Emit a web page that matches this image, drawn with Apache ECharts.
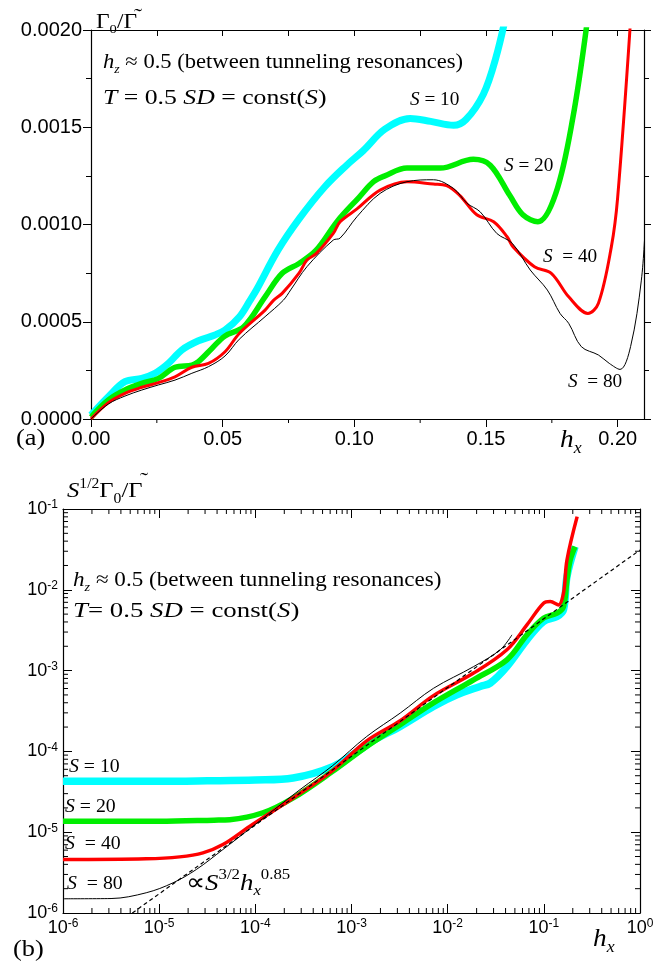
<!DOCTYPE html>
<html>
<head>
<meta charset="utf-8">
<script src="https://cdn.jsdelivr.net/npm/echarts@6/dist/echarts.min.js"></script>
<style>
  html, body { margin: 0; padding: 0; background: #fff; }
  #chart { width: 669px; height: 968px; }
</style>
</head>
<body>
<div id="chart"></div>
<script>
// ---- panel (a): Gamma0/Gamma~ vs h_x (linear) ----
const aX10 = [0, 0.0066, 0.0129, 0.0193, 0.0243, 0.0294, 0.0345, 0.0408, 0.0471, 0.0509, 0.0564, 0.0604, 0.0628, 0.071, 0.0791, 0.0888, 0.0971, 0.1034, 0.1116, 0.1212, 0.129, 0.1377, 0.1424, 0.149, 0.1538, 0.158];
const aY10 = [0.2e-4, 1.15e-4, 1.92e-4, 2.09e-4, 2.35e-4, 2.86e-4, 3.55e-4, 4.02e-4, 4.32e-4, 4.57e-4, 5.26e-4, 6.1e-4, 6.63e-4, 8.68e-4, 10.3e-4, 11.94e-4, 13.05e-4, 13.8e-4, 14.9e-4, 15.45e-4, 15.3e-4, 15.1e-4, 15.4e-4, 16.7e-4, 18.6e-4, 21e-4];

const aX20 = [0, 0.0066, 0.0129, 0.0193, 0.0256, 0.0319, 0.0383, 0.0408, 0.0459, 0.0509, 0.058, 0.0661, 0.0726, 0.079, 0.0855, 0.0937, 0.1018, 0.1073, 0.1116, 0.12, 0.1326, 0.1452, 0.1516, 0.159, 0.164, 0.1697, 0.1765, 0.183, 0.1885];
const aY20 = [0.1e-4, 0.98e-4, 1.49e-4, 1.83e-4, 2.09e-4, 2.66e-4, 2.77e-4, 2.95e-4, 3.63e-4, 4.27e-4, 4.74e-4, 6.28e-4, 7.49e-4, 8.0e-4, 8.68e-4, 10.2e-4, 11.4e-4, 12.2e-4, 12.5e-4, 12.9e-4, 12.9e-4, 13.35e-4, 13.05e-4, 11.5e-4, 10.5e-4, 10.14e-4, 11.6e-4, 15.5e-4, 20.5e-4];

const aX40 = [0, 0.0066, 0.0129, 0.0193, 0.0256, 0.0319, 0.0383, 0.0446, 0.0509, 0.0563, 0.0661, 0.0693, 0.0726, 0.079, 0.082, 0.0855, 0.092, 0.0946, 0.101, 0.1098, 0.12, 0.13, 0.135, 0.14, 0.1465, 0.1529, 0.158, 0.1603, 0.1684, 0.1748, 0.1814, 0.1887, 0.1927, 0.1976, 0.2, 0.2049];
const aY40 = [0, 0.84e-4, 1.32e-4, 1.63e-4, 1.87e-4, 2.17e-4, 2.66e-4, 2.86e-4, 3.46e-4, 4.4e-4, 5.6e-4, 6.1e-4, 6.46e-4, 7.5e-4, 8.17e-4, 8.5e-4, 9.54e-4, 10.14e-4, 10.8e-4, 11.77e-4, 12.2e-4, 12.08e-4, 12.0e-4, 11.5e-4, 10.5e-4, 10.14e-4, 9.37e-4, 8.85e-4, 7.83e-4, 7.49e-4, 6.28e-4, 5.43e-4, 5.95e-4, 8.85e-4, 11.4e-4, 20.5e-4];

const aX80 = [0, 0.0066, 0.0129, 0.0193, 0.0256, 0.0319, 0.0383, 0.0446, 0.0509, 0.0563, 0.0661, 0.073, 0.0758, 0.082, 0.092, 0.0946, 0.101, 0.1098, 0.12, 0.13, 0.1377, 0.1427, 0.1478, 0.1541, 0.16, 0.1668, 0.1733, 0.1781, 0.1814, 0.1862, 0.1927, 0.1968, 0.2009, 0.2049, 0.209, 0.2105];
const aY80 = [0, 0.77e-4, 1.18e-4, 1.49e-4, 1.75e-4, 2.0e-4, 2.35e-4, 2.69e-4, 3.24e-4, 4.1e-4, 5.26e-4, 6.1e-4, 6.63e-4, 7.83e-4, 9.2e-4, 9.3e-4, 10.4e-4, 11.6e-4, 12.2e-4, 12.3e-4, 11.85e-4, 11.1e-4, 10.65e-4, 9.54e-4, 9.03e-4, 7.66e-4, 6.63e-4, 5.43e-4, 4.92e-4, 3.72e-4, 3.29e-4, 2.86e-4, 2.55e-4, 3.72e-4, 7.14e-4, 10e-4];

const aTicksX = [0, 0.05, 0.1, 0.15, 0.2];
const aMinorX = [0.025, 0.075, 0.125, 0.175];
const aTopTicksX = [0.025, 0.05, 0.075, 0.1, 0.125, 0.15, 0.175, 0.2];

// ---- panel (b): S^1/2 Gamma0/Gamma~ vs h_x (log-log) ----
const bX10 = [1e-6, 1e-5, 3.16e-5, 1e-4, 2.47e-4, 6.47e-4, 1.23e-3, 1.62e-3, 3.21e-3, 7.11e-3, 0.01247, 0.0218, 0.0277, 0.0413, 0.0667, 0.0993, 0.137, 0.160, 0.174, 0.211];
const bY10 = [4.26e-5, 4.26e-5, 4.32e-5, 4.42e-5, 4.69e-5, 6.53e-5, 1.05e-4, 1.33e-4, 2.04e-4, 3.6e-4, 5.01e-4, 6.37e-4, 7.0e-4, 1.12e-3, 2.4e-3, 4.05e-3, 4.67e-3, 5.65e-3, 0.01456, 0.0342];

const bX20 = [1e-6, 1e-5, 3.72e-5, 5.41e-5, 1.2e-4, 2.47e-4, 6.31e-4, 1.44e-3, 3.21e-3, 7.11e-3, 0.0186, 0.0413, 0.0667, 0.0993, 0.137, 0.160, 0.174, 0.188, 0.211];
const bY20 = [1.365e-5, 1.365e-5, 1.41e-5, 1.43e-5, 1.74e-5, 2.65e-5, 5.62e-5, 1.15e-4, 2.14e-4, 3.98e-4, 7.69e-4, 1.36e-3, 2.77e-3, 4.46e-3, 5.14e-3, 6.19e-3, 0.01324, 0.0234, 0.0342];

const bX40 = [1e-6, 7.33e-6, 1.63e-5, 2.85e-5, 4.6e-5, 8.71e-5, 2.47e-4, 6.31e-4, 1.44e-3, 3.21e-3, 7.11e-3, 0.0186, 0.0413, 0.0667, 0.0993, 0.1167, 0.1422, 0.160, 0.174, 0.222];
const bY40 = [4.58e-6, 4.68e-6, 4.95e-6, 5.55e-6, 7.03e-6, 1.18e-5, 2.65e-5, 5.75e-5, 1.35e-4, 2.4e-4, 4.9e-4, 9.31e-4, 1.81e-3, 3.68e-3, 6.82e-3, 7.14e-3, 6.5e-3, 9.08e-3, 0.0234, 0.0804];

const bX80 = [1e-6, 3.16e-6, 7.33e-6, 1.39e-5, 2.43e-5, 4.6e-5, 8.71e-5, 2.92e-4, 6.31e-4, 1.44e-3, 3.21e-3, 7.11e-3, 0.0186, 0.0352, 0.0466];
const bY80 = [1.5e-6, 1.51e-6, 1.78e-6, 2.36e-6, 3.45e-6, 6.1e-6, 1.1e-5, 3.37e-5, 6.61e-5, 1.53e-4, 2.98e-4, 6.03e-4, 1.12e-3, 1.81e-3, 2.77e-3];

// power-law guide  ~ S^3/2 h_x^0.85
const bFitX = [5.26e-6, 1];
const bFitY = [1e-6, 0.0311];

const bDecX = [1e-6, 1e-5, 1e-4, 1e-3, 1e-2, 1e-1, 1];
const bDecY = [1e-6, 1e-5, 1e-4, 1e-3, 1e-2, 1e-1];

const bMinorX = [];
for (let e = -6; e < 0; e++) for (let k = 2; k <= 9; k++) bMinorX.push(k * Math.pow(10, e));
const bMinorY = [];
for (let e = -6; e < -1; e++) for (let k = 2; k <= 9; k++) bMinorY.push(k * Math.pow(10, e));

const zip = (xs, ys) => xs.map((x, i) => [x, ys[i]]);

const SANS = 'Liberation Sans';
const SERIF = 'Liberation Serif';
const CYAN = '#00ffff', GREEN = '#00ee00', RED = '#ff0000', BLACK = '#000000';

const axisLine = { show: true, onZero: false, lineStyle: { color: '#000', width: 1.2 } };

function richFor(fs) {
    const s = Math.round(fs * 0.64);
    return {
        n: { fontFamily: SERIF, fontSize: fs, lineHeight: Math.round(fs * 1.3) },
        i: { fontFamily: SERIF, fontSize: fs, fontStyle: 'italic', lineHeight: Math.round(fs * 1.3) },
        sub: { fontFamily: SERIF, fontSize: s, fontStyle: 'italic', verticalAlign: 'bottom', lineHeight: s },
        subn: { fontFamily: SERIF, fontSize: s, verticalAlign: 'bottom', lineHeight: s },
        sup: { fontFamily: SERIF, fontSize: s, verticalAlign: 'top', lineHeight: s },
    };
}

// the source figure is slightly stretched sideways, so texts get a small scaleX
function label(text, left, top, fs, sx) {
    return {
        type: 'text', left, top, z: 100, scaleX: sx || 1.1,
        style: { text, fill: '#000', rich: richFor(fs) },
    };
}

const powLabel = v => {
    const e = Math.round(Math.log10(v));
    return '{m|10}{e|' + e + '}';
};
const powRich = {
    m: { fontFamily: SANS, fontSize: 18, lineHeight: 20, color: '#000' },
    e: { fontFamily: SANS, fontSize: 12, lineHeight: 12, verticalAlign: 'top', color: '#000' },
};

// short tick marks for the minor positions, placed through the axis scales
function tickRenderer(dir, len, atMin, atMax) {
    return (params, api) => {
        const v = api.value(dir === 'x' ? 0 : 1);
        const children = [];
        const a = dir === 'x' ? api.coord([v, atMin]) : api.coord([atMin, v]);
        const b = atMax == null ? null : (dir === 'x' ? api.coord([v, atMax]) : api.coord([atMax, v]));
        const st = { stroke: '#000', lineWidth: 1 };
        if (dir === 'x') {
            children.push({ type: 'line', shape: { x1: a[0], y1: a[1], x2: a[0], y2: a[1] + len[0] }, style: st });
            if (b) children.push({ type: 'line', shape: { x1: b[0], y1: b[1], x2: b[0], y2: b[1] + len[1] }, style: st });
        } else {
            children.push({ type: 'line', shape: { x1: a[0], y1: a[1], x2: a[0] + len[0], y2: a[1] }, style: st });
            if (b) children.push({ type: 'line', shape: { x1: b[0], y1: b[1], x2: b[0] + len[1], y2: b[1] }, style: st });
        }
        return { type: 'group', children };
    };
}

const chart = echarts.init(document.getElementById('chart'), null, { renderer: 'canvas' });

chart.setOption({
    animation: false,
    backgroundColor: '#fff',
    grid: [
        { left: 91, top: 30, width: 553, height: 389 },
        { left: 63, top: 509, width: 577, height: 404 },
    ],
    xAxis: [
        {
            gridIndex: 0, type: 'value', position: 'bottom', min: 0, max: 0.21, interval: 0.05,
            axisLine, splitLine: { show: false },
            axisTick: { show: true, inside: false, length: 8, customValues: aTicksX, lineStyle: { color: '#000' } },
            axisLabel: {
                customValues: aTicksX, margin: 10, color: '#000', fontFamily: SANS, fontSize: 20,
                formatter: v => v.toFixed(2),
            },
        },
        {
            gridIndex: 0, type: 'value', position: 'top', min: 0, max: 0.21, interval: 0.05,
            axisLine, splitLine: { show: false },
            axisTick: { show: true, inside: true, length: 6, customValues: aTopTicksX, lineStyle: { color: '#000' } },
            axisLabel: { show: false },
        },
        {
            gridIndex: 1, type: 'log', position: 'bottom', min: 1e-6, max: 1,
            axisLine, splitLine: { show: false },
            axisTick: { show: true, inside: true, length: 9, customValues: bDecX, lineStyle: { color: '#000' } },
            axisLabel: { customValues: bDecX, margin: 5, formatter: powLabel, rich: powRich },
        },
        {
            gridIndex: 1, type: 'log', position: 'top', min: 1e-6, max: 1,
            axisLine, splitLine: { show: false },
            axisTick: { show: true, inside: true, length: 9, customValues: bDecX, lineStyle: { color: '#000' } },
            axisLabel: { show: false },
        },
    ],
    yAxis: [
        {
            gridIndex: 0, type: 'value', position: 'left', min: 0, max: 0.002, interval: 0.0005,
            axisLine, splitLine: { show: false },
            axisTick: { show: true, inside: false, length: 8, lineStyle: { color: '#000' } },
            minorTick: { show: true, splitNumber: 2, length: 5, lineStyle: { color: '#000' } },
            axisLabel: { margin: 9, color: '#000', fontFamily: SANS, fontSize: 20, formatter: v => v.toFixed(4) },
        },
        {
            gridIndex: 0, type: 'value', position: 'right', min: 0, max: 0.002, interval: 0.0005,
            axisLine, splitLine: { show: false },
            axisTick: { show: true, inside: false, length: 7, lineStyle: { color: '#000' } },
            minorTick: { show: true, splitNumber: 2, length: 5, lineStyle: { color: '#000' } },
            axisLabel: { show: false },
        },
        {
            gridIndex: 1, type: 'log', position: 'left', min: 1e-6, max: 0.1,
            axisLine, splitLine: { show: false },
            axisTick: { show: true, inside: true, length: 9, customValues: bDecY, lineStyle: { color: '#000' } },
            axisLabel: { customValues: bDecY, margin: 5, formatter: powLabel, rich: powRich },
        },
        {
            gridIndex: 1, type: 'log', position: 'right', min: 1e-6, max: 0.1,
            axisLine, splitLine: { show: false },
            axisTick: { show: true, inside: true, length: 9, customValues: bDecY, lineStyle: { color: '#000' } },
            axisLabel: { show: false },
        },
    ],
    series: [
        // (a)
        { type: 'line', xAxisIndex: 0, yAxisIndex: 0, data: zip(aX10, aY10), smooth: 0.35, showSymbol: false, lineStyle: { color: CYAN, width: 7 } },
        { type: 'line', xAxisIndex: 0, yAxisIndex: 0, data: zip(aX20, aY20), smooth: 0.35, showSymbol: false, lineStyle: { color: GREEN, width: 5.5 } },
        { type: 'line', xAxisIndex: 0, yAxisIndex: 0, data: zip(aX40, aY40), smooth: 0.35, showSymbol: false, lineStyle: { color: RED, width: 3 } },
        { type: 'line', xAxisIndex: 0, yAxisIndex: 0, data: zip(aX80, aY80), smooth: 0.35, showSymbol: false, lineStyle: { color: BLACK, width: 1 } },
        // (b)
        { type: 'line', xAxisIndex: 2, yAxisIndex: 2, data: zip(bX10, bY10), smooth: 0.35, showSymbol: false, lineStyle: { color: CYAN, width: 7.5 } },
        { type: 'line', xAxisIndex: 2, yAxisIndex: 2, data: zip(bX20, bY20), smooth: 0.35, showSymbol: false, lineStyle: { color: GREEN, width: 5.5 } },
        { type: 'line', xAxisIndex: 2, yAxisIndex: 2, data: zip(bX40, bY40), smooth: 0.35, showSymbol: false, lineStyle: { color: RED, width: 3.5 } },
        { type: 'line', xAxisIndex: 2, yAxisIndex: 2, data: zip(bX80, bY80), smooth: 0.35, showSymbol: false, lineStyle: { color: BLACK, width: 1 } },
        { type: 'line', xAxisIndex: 2, yAxisIndex: 2, data: zip(bFitX, bFitY), showSymbol: false, lineStyle: { color: BLACK, width: 1.2, type: [4, 3] } },
        // minor ticks
        {
            type: 'custom', xAxisIndex: 0, yAxisIndex: 0, silent: true,
            data: aMinorX.map(v => [v, 0]),
            renderItem: tickRenderer('x', [4], 0, null),
        },
        {
            type: 'custom', xAxisIndex: 2, yAxisIndex: 2, silent: true,
            data: bMinorX.map(v => [v, 1e-6]),
            renderItem: tickRenderer('x', [-5, 5], 1e-6, 0.1),
        },
        {
            type: 'custom', xAxisIndex: 2, yAxisIndex: 2, silent: true,
            data: bMinorY.map(v => [1e-6, v]),
            renderItem: tickRenderer('y', [5, -5], 1e-6, 1),
        },
    ],
    graphic: [
        // (a)
        label('{n|Γ}{subn|0}{n|/Γ}', 96, 12, 21, 1.12),
        label('{n|˜}', 134, 6, 22, 1.1),
        label('{i|h}{sub|z}{n| ≈ 0.5 (between tunneling resonances)}', 103, 52, 21, 1.075),
        label('{i|T}{n| = 0.5 }{i|SD}{n| = const(}{i|S}{n|)}', 103, 87, 22, 1.17),
        label('{i|S}{n| = 10}', 410, 91, 18, 1.07),
        label('{i|S}{n| = 20}', 504, 157, 18, 1.07),
        label('{i|S}{n|  = 40}', 543, 248, 18, 1.07),
        label('{i|S}{n|  = 80}', 568, 373, 18, 1.07),
        label('{n|(a)}', 16, 427, 24, 1.1),
        label('{i|h}{sub|x}', 560, 427, 26, 1.05),
        // (b)
        label('{i|S}{sup|1/2}{n|Γ}{subn|0}{n|/Γ}', 67, 477, 22, 1.12),
        label('{n|˜}', 140, 470, 22, 1.1),
        label('{i|h}{sub|z}{n| ≈ 0.5 (between tunneling resonances)}', 73, 570, 21, 1.1),
        label('{i|T}{n|= 0.5 }{i|SD}{n| = const(}{i|S}{n|)}', 73, 600, 22, 1.22),
        label('{i|S}{n| = 10}', 69, 758, 18, 1.1),
        label('{i|S}{n| = 20}', 65, 798, 18, 1.1),
        label('{i|S}{n|  = 40}', 65, 835, 18, 1.1),
        label('{i|S}{n|  = 80}', 67, 875, 18, 1.1),
        label('{n|∝}{i|S}{sup|3/2}{i|h}{sub|x}{sup|0.85}', 186, 868, 24, 1.12),
        label('{n|(b)}', 13, 938, 24, 1.1),
        label('{i|h}{sub|x}', 593, 926, 26, 1.05),
    ],
});
</script>
</body>
</html>
